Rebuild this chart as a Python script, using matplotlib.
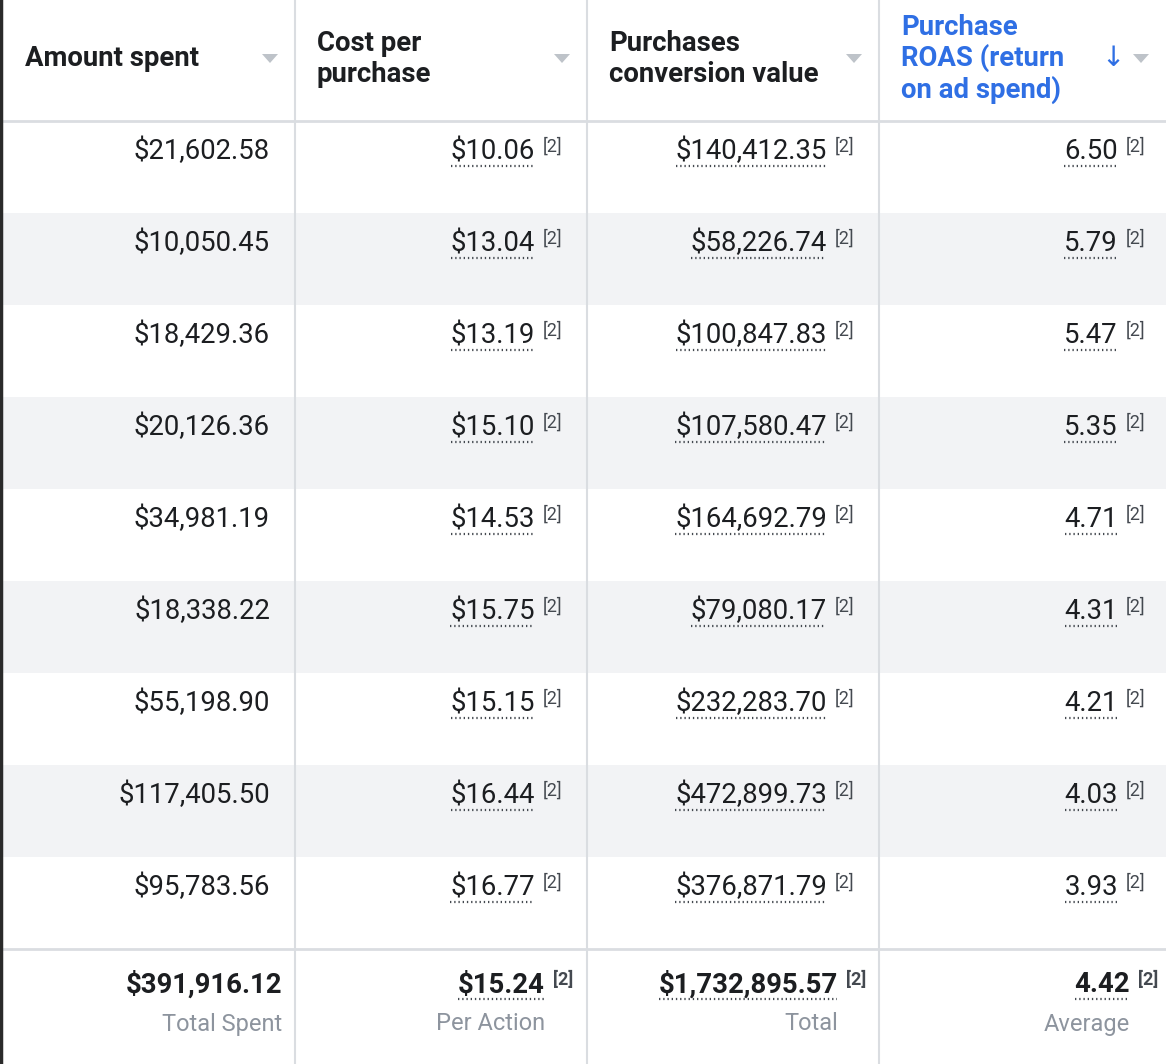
import matplotlib
matplotlib.use("Agg")
import matplotlib.pyplot as plt
from matplotlib.patches import Rectangle, Polygon

# ---- data ----
headers = ["Amount spent", "Cost per\npurchase", "Purchases\nconversion value",
           "Purchase\nROAS (return\non ad spend)"]
amount_spent = [21602.58, 10050.45, 18429.36, 20126.36, 34981.19, 18338.22,
                55198.90, 117405.50, 95783.56]
cost_per_purchase = [10.06, 13.04, 13.19, 15.10, 14.53, 15.75, 15.15, 16.44, 16.77]
conversion_value = [140412.35, 58226.74, 100847.83, 107580.47, 164692.79,
                    79080.17, 232283.70, 472899.73, 376871.79]
roas = [6.50, 5.79, 5.47, 5.35, 4.71, 4.31, 4.21, 4.03, 3.93]
total_values = [391916.12, 15.24, 1732895.57, 4.42]
total_labels = ["Total Spent", "Per Action", "Total", "Average"]
footnote = "[2]"

W, H = 1166, 1064
fig = plt.figure(figsize=(W / 100, H / 100), dpi=100)
ax = fig.add_axes([0, 0, 1, 1])
ax.set_xlim(0, W)
ax.set_ylim(H, 0)
ax.axis("off")

FONT = "Roboto"
BLACK = "#1c1e21"
GRAY_LINE = "#dadde1"
ROW_GRAY = "#f2f3f5"
BLUE = "#2f6fe4"
LABEL_GRAY = "#8d949e"
TRI = "#bec3c9"

col_edges = [0, 295, 587, 879, W]
header_bottom = 121
row_h = 92.0
n_rows = len(amount_spent)
footer_top = header_bottom + n_rows * row_h

# row backgrounds
for i in range(n_rows):
    top = header_bottom + i * row_h
    if i % 2 == 1:
        ax.add_patch(Rectangle((0, top), W, row_h, color=ROW_GRAY, lw=0, zorder=0))

# grid lines
for x in col_edges[1:-1]:
    ax.plot([x, x], [0, H], color=GRAY_LINE, lw=1.5, zorder=1)
ax.plot([0, W], [header_bottom, header_bottom], color=GRAY_LINE, lw=2, zorder=1)
ax.plot([0, W], [footer_top, footer_top], color=GRAY_LINE, lw=2, zorder=1)
ax.plot([1, 1], [0, H], color="#2a2a2a", lw=2.5, zorder=2)

# headers
for j, h in enumerate(headers):
    color = BLUE if j == 3 else BLACK
    x0 = col_edges[j] + (25 if j == 0 else 22)
    ax.text(x0, 59, h, ha="left", va="center", fontsize=19.8,
            fontfamily=FONT, fontweight="bold", color=color, linespacing=1.16)
    tx = col_edges[j + 1] - 25
    ax.add_patch(Polygon([[tx - 8, 54], [tx + 8, 54], [tx, 63]], closed=True,
                         color=TRI, lw=0, zorder=3))
ax.text(1113, 58, "↓", ha="center", va="center", fontsize=20,
        fontfamily="DejaVu Sans", color=BLUE)

fig.canvas.draw()
renderer = fig.canvas.get_renderer()
inv = ax.transData.inverted()


def underline(t, y):
    bb = t.get_window_extent(renderer=renderer)
    (x0, _), (x1, _) = inv.transform([[bb.x0, bb.y0], [bb.x1, bb.y0]])
    ax.plot([x0, x1 - 1], [y, y], color="#444950", lw=1.6,
            linestyle=(0, (0.6, 1.3)), zorder=4)


def value_cell(text, xr, y, bold=False, sup=True, ul=True, size=19.8):
    t = ax.text(xr, y, text, ha="right", va="center", fontsize=size,
                fontfamily=FONT, fontweight="bold" if bold else "normal",
                color=BLACK, zorder=5)
    if ul:
        underline(t, y + 14)
    if sup:
        ax.text(xr + 8, y - 5, footnote, ha="left", va="center",
                fontsize=13, fontfamily=FONT,
                fontweight="bold" if bold else "normal",
                color="#444950", zorder=5)


cols = [amount_spent, cost_per_purchase, conversion_value, roas]
fmts = [lambda v: f"${v:,.2f}", lambda v: f"${v:,.2f}",
        lambda v: f"${v:,.2f}", lambda v: f"{v:.2f}"]
right_edges = [270, 535, 827, 1118]

for i in range(n_rows):
    y = header_bottom + i * row_h + 30.5
    for j in range(4):
        first = j == 0
        value_cell(fmts[j](cols[j][i]), right_edges[j], y,
                   sup=not first, ul=not first)

# footer
foot_right = [282, 545, 838, 1130]
for j in range(4):
    first = j == 0
    value_cell(fmts[j](total_values[j]), foot_right[j], 985, bold=True,
               sup=not first, ul=not first)
    ax.text(foot_right[j], 1024, total_labels[j], ha="right", va="center",
            fontsize=17, fontfamily=FONT, color=LABEL_GRAY)

fig.savefig("out.png", dpi=100)
